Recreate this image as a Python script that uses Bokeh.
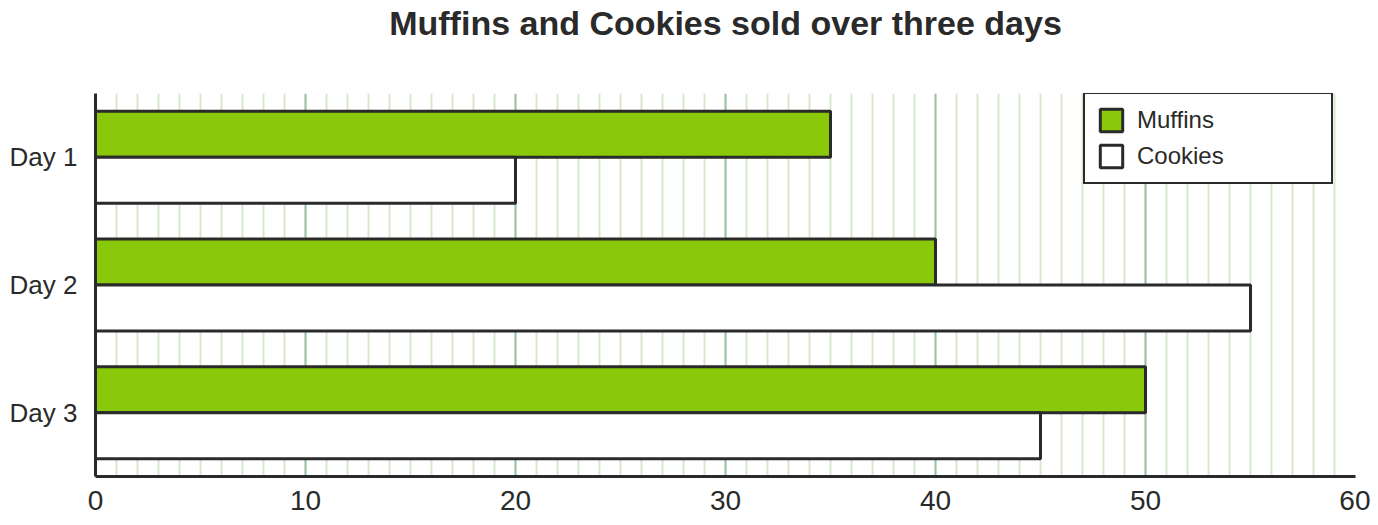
from bokeh.plotting import figure
from bokeh.models import (ColumnDataSource, FactorRange, Range1d, SingleIntervalTicker,
                          Legend, LegendItem, Title)
from bokeh.transform import dodge
from bokeh.embed import file_html
from bokeh.resources import INLINE

days = ["Day 1", "Day 2", "Day 3"]
muffins = [35, 40, 50]
cookies = [20, 55, 45]
series_names = ["Muffins", "Cookies"]
x_ticks = [0, 10, 20, 30, 40, 50, 60]

FONT = "Liberation Sans"
DARK = "#2a2a2a"

src = ColumnDataSource(dict(day=days, muffins=muffins, cookies=cookies))

p = figure(width=1370, height=517, output_backend="svg", toolbar_location=None,
           y_range=FactorRange(factors=list(reversed(days)), range_padding=0),
           x_range=Range1d(x_ticks[0], x_ticks[-1]),
           min_border_left=95, min_border_right=15, min_border_top=93, min_border_bottom=41,
           outline_line_color=None)

p.title.text = "Muffins and Cookies sold over three days"
p.title.align = "center"
p.title.vertical_align = "top"
p.title.text_font = FONT
p.title.text_font_size = "34px"
p.title.text_font_style = "bold"
p.title.text_color = DARK
p.title.standoff = 5

# empty spacer between the title and the plot frame
p.add_layout(Title(text=" ", text_font_size="1px", standoff=44), "above")

ticker = SingleIntervalTicker(interval=10, num_minor_ticks=10)
p.xaxis.ticker = ticker
p.xgrid.ticker = ticker
p.xgrid.grid_line_color = "#9dc3a5"
p.xgrid.grid_line_width = 2
p.xgrid.minor_grid_line_color = "#d6e9cd"
p.xgrid.minor_grid_line_width = 2
p.ygrid.grid_line_color = None

for ax in (p.xaxis[0], p.yaxis[0]):
    ax.axis_line_color = DARK
    ax.axis_line_width = 3
    ax.major_tick_line_color = None
    ax.minor_tick_line_color = None
    ax.major_tick_out = 0
    ax.major_tick_in = 0
    ax.minor_tick_out = 0
    ax.major_label_text_font = FONT
    ax.major_label_text_color = DARK
p.xaxis.major_label_text_font_size = "28px"
p.yaxis.major_label_text_font_size = "26px"
p.xaxis.major_label_standoff = 14
p.yaxis.major_label_standoff = 18

r_m = p.hbar(y=dodge("day", 0.18, range=p.y_range), right="muffins", left=0, height=0.36,
             source=src, fill_color="#8ac80a", line_color=DARK, line_width=3)
r_c = p.hbar(y=dodge("day", -0.18, range=p.y_range), right="cookies", left=0, height=0.36,
             source=src, fill_color="white", line_color=DARK, line_width=3)

legend = Legend(items=[LegendItem(label=series_names[0], renderers=[r_m]),
                       LegendItem(label=series_names[1], renderers=[r_c])],
                location=(988, 292), margin=0, padding=12, spacing=8,
                glyph_width=28, glyph_height=28, label_standoff=12, label_width=182,
                label_text_font=FONT, label_text_font_size="24px", label_text_color=DARK,
                border_line_color=DARK, border_line_width=2, border_line_alpha=1,
                background_fill_alpha=1)
p.add_layout(legend, "center")

open("out.html", "w").write(file_html(p, INLINE))
